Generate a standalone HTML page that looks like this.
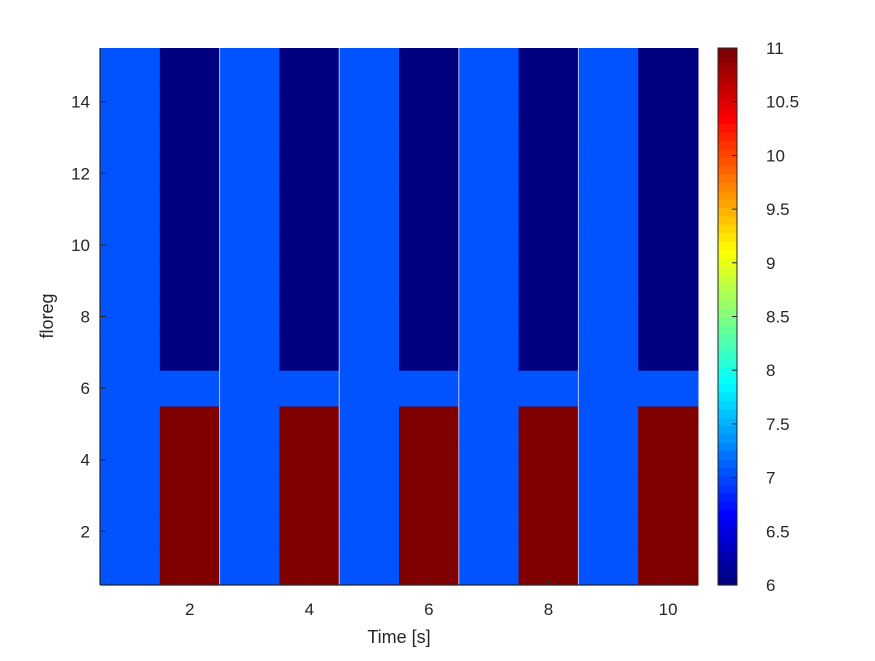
<!DOCTYPE html>
<html><head><meta charset="utf-8"><style>
body{margin:0;background:#fff;}
svg text{font-family:"Liberation Sans",sans-serif;fill:#262626;}
</style></head><body>
<svg width="875" height="656" xmlns="http://www.w3.org/2000/svg">
<rect width="875" height="656" fill="#fff"/>
<g id="cells"></g>
<g id="grid"></g>
<g id="axes"></g>
<g id="cbar"></g>
<text x="399" y="643" font-size="18" text-anchor="middle">Time [s]</text>
<text x="0" y="0" font-size="18" text-anchor="middle" transform="translate(53,316) rotate(-90)">floreg</text>
</svg>
<script>
// data
const xCats=[1,2,3,4,5,6,7,8,9,10];
const yCats=[1,2,3,4,5,6,7,8,9,10,11,12,13,14,15];
const oddColumnValue=7;
const evenColumnValues=[11,11,11,11,11,7,6,6,6,6,6,6,6,6,6];
const xTicks=[2,4,6,8,10];
const yTicks=[2,4,6,8,10,12,14];
const cbarTicks=[6,6.5,7,7.5,8,8.5,9,9.5,10,10.5,11];
const cmin=6,cmax=11;

const NS="http://www.w3.org/2000/svg";
const L=100,R=698,T=48,B=585;
const sx=v=>L+(v-0.5)/10*(R-L);
const sy=v=>B-(v-0.5)/15*(B-T);
function jet(t){
  const f=x=>Math.max(0,Math.min(1,x));
  const r=f(Math.min(4*t-1.5,-4*t+4.5)),g=f(Math.min(4*t-0.5,-4*t+3.5)),b=f(Math.min(4*t+0.5,-4*t+2.5));
  return `rgb(${Math.round(r*255)},${Math.round(g*255)},${Math.round(b*255)})`;
}
function cmap(v){let t=(v-cmin)/(cmax-cmin);let i=Math.round(t*63);return jet(i/63);}
function mk(tag,attrs,parent){const e=document.createElementNS(NS,tag);for(const k in attrs)e.setAttribute(k,attrs[k]);parent.appendChild(e);return e;}
const cells=document.getElementById('cells');
xCats.forEach(x=>{yCats.forEach((y,j)=>{
  const v=(x%2===0)?evenColumnValues[j]:oddColumnValue;
  const r=mk('rect',{x:sx(x-0.5),y:sy(y+0.5),width:sx(x+0.5)-sx(x-0.5)+0.5,height:sy(y-0.5)-sy(y+0.5)+0.5,fill:cmap(v)},cells);
  
  
});});
const grid=document.getElementById('grid');
[2.5,4.5,6.5,8.5].forEach(b=>{const l=mk('line',{x1:sx(b),x2:sx(b),y1:T,y2:B,stroke:'#dfe6ff','stroke-width':1,opacity:0.8},grid);

});
const ax=document.getElementById('axes');
mk('line',{x1:L,x2:R,y1:B,y2:B,stroke:'#262626','stroke-width':1.2},ax);
mk('line',{x1:L,x2:L,y1:T,y2:B,stroke:'#262626','stroke-width':1.2},ax);
xTicks.forEach(t=>{const x=sx(t);mk('line',{x1:x,x2:x,y1:B,y2:B-6,stroke:'#262626'},ax);
const tx=mk('text',{x:x,y:B+30,'font-size':17,'text-anchor':'middle'},ax);tx.textContent=t;

});
yTicks.forEach(t=>{const y=sy(t);mk('line',{x1:L,x2:L+6,y1:y,y2:y,stroke:'#262626'},ax);
const tx=mk('text',{x:L-10,y:y+6,'font-size':17,'text-anchor':'end'},ax);tx.textContent=t;

});
const cb=document.getElementById('cbar');
const CL=718,CR=737;
const cy=v=>B-(v-cmin)/(cmax-cmin)*(B-T);
for(let i=0;i<64;i++){const y0=B-(i+1)/64*(B-T);mk('rect',{x:CL,y:y0,width:CR-CL,height:(B-T)/64+0.6,fill:jet(i/63)},cb);}
mk('rect',{x:CL,y:T,width:CR-CL,height:B-T,fill:'none',stroke:'#262626','stroke-width':1},cb);
cbarTicks.forEach(t=>{const y=cy(t);mk('line',{x1:CR-5,x2:CR,y1:y,y2:y,stroke:'#262626'},cb);
const tx=mk('text',{x:CR+29,y:y+6,'font-size':17,'text-anchor':'start'},cb);tx.textContent=t;

});
</script>
</body></html>
